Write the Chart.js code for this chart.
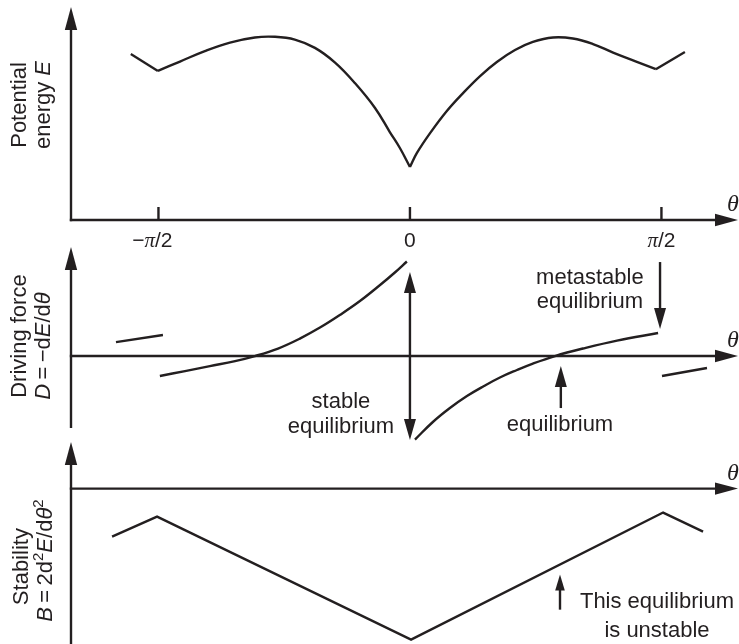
<!DOCTYPE html>
<html>
<head>
<meta charset="utf-8">
<title>Potential energy, driving force and stability</title>
<script src="https://cdn.jsdelivr.net/npm/chart.js@4/dist/chart.umd.min.js"></script>
<style>
  html, body { margin: 0; padding: 0; background: #ffffff; }
  #wrap { position: relative; width: 739px; height: 644px; }
  #wrap canvas { position: absolute; left: 0; top: 0; }
</style>
</head>
<body>
<div id="wrap">
  <canvas id="energyPanel" width="739" height="644"></canvas>
  <canvas id="drivePanel" width="739" height="644"></canvas>
  <canvas id="stabilityPanel" width="739" height="644"></canvas>
</div>
<script>
// ---- data (θ in degrees, −90 / 90 are the ±π/2 reference angles) ----
const thetaTicks = [-90, 0, 90];
const thetaTickLabels = ['−π/2', '0', 'π/2'];

// Potential energy E(θ): two short arms and two lobes meeting in the cusp at θ = 0
const energyArmLeftTheta = [-99.9, -90.2];
const energyArmLeftE = [77.9, 70.0];
const energyLobeLeftTheta = [-90.2, -82.3, -73.4, -64.4, -55.5, -48.3, -41.2, -34.0, -26.8, -19.7, -12.5, -7.2, -3.6, 0];
const energyLobeLeftE = [70.0, 74.4, 79.3, 83.3, 85.7, 86.0, 84.7, 80.8, 73.9, 64.3, 52.6, 41.3, 33.8, 24.9];
const energyLobeRightTheta = [0, 2.5, 7.2, 13.2, 19.0, 25.1, 31.1, 37.6, 44.0, 51.2, 58.3, 65.5, 72.7, 80.5, 88.0];
const energyLobeRightE = [24.9, 31.5, 40.8, 51.2, 59.6, 67.6, 74.2, 79.8, 83.6, 85.7, 85.2, 82.6, 78.6, 74.6, 70.8];
const energyArmRightTheta = [88.0, 98.4];
const energyArmRightE = [70.8, 78.9];

// Driving force D = −dE/dθ
const driveArmLeftTheta = [-105.2, -88.4];
const driveArmLeftD = [12.8, 19.3];
const driveBranchLeftTheta = [-89.5, -80.5, -71.6, -62.6, -55.5, -47.2, -39.4, -32.2, -25.1, -17.9, -10.7, -5.4, -1.1];
const driveBranchLeftD = [-18.3, -13.8, -9.2, -4.6, 0, 6.9, 16.0, 26.1, 37.6, 50.4, 65.1, 76.6, 86.7];
const driveBranchRightTheta = [1.8, 8.2, 14.3, 20.4, 26.5, 32.2, 38.3, 44.0, 51.9, 61.9, 74.1, 88.8];
const driveBranchRightD = [-76.6, -60.5, -47.7, -36.7, -27.5, -19.7, -12.8, -6.9, 0, 6.9, 14.2, 21.1];
const driveArmRightTheta = [90.2, 106.3];
const driveArmRightD = [-18.3, -11.0];

// Stability B = 2d²E/dθ²
const stabilityTheta = [-106.6, -90.5, 0.4, 90.6, 104.9];
const stabilityB = [-30.9, -18.0, -97.2, -15.4, -27.7];

// ---- drawing ----
const INK = '#231f20';
const SANS = '"Liberation Sans", Arial, Helvetica, sans-serif';
const SERIF = '"Liberation Serif", "Times New Roman", serif';
const THETA_MIN = -121.3, THETA_MAX = 117.4;
const LINE_W = 2.4;
const AXIS_HEAD = { len: 23, half: 6.2 };
const NOTE_HEAD = { len: 21, half: 6 };
const SMALL_HEAD = { len: 16, half: 4.8 };
const TEXT_SIZE = 22;

function fontFor(kind, size) {
  if (kind === 'i') return 'italic ' + size + 'px ' + SANS;
  if (kind === 'g') return 'italic ' + size + 'px ' + SERIF;
  if (kind === 's') return Math.round(size * 0.66) + 'px ' + SANS;
  return size + 'px ' + SANS;
}
function runsWidth(ctx, runs, size) {
  let w = 0;
  for (const r of runs) { ctx.font = fontFor(r.k, size); w += ctx.measureText(r.t).width; }
  return w;
}
function drawRuns(ctx, runs, x, y, size, align) {
  const w = runsWidth(ctx, runs, size);
  let cx = align === 'center' ? x - w / 2 : (align === 'right' ? x - w : x);
  ctx.textAlign = 'left';
  ctx.textBaseline = 'alphabetic';
  ctx.fillStyle = INK;
  for (const r of runs) {
    ctx.font = fontFor(r.k, size);
    const dy = r.k === 's' ? -size * 0.4 : 0;
    ctx.fillText(r.t, cx, y + dy);
    cx += ctx.measureText(r.t).width;
  }
}
function head(ctx, tx, ty, dx, dy, h) {
  const bx = tx - dx * h.len, by = ty - dy * h.len;
  const px = -dy, py = dx;
  ctx.beginPath();
  ctx.moveTo(tx, ty);
  ctx.lineTo(bx + px * h.half, by + py * h.half);
  ctx.lineTo(bx - px * h.half, by - py * h.half);
  ctx.closePath();
  ctx.fill();
}
function arrow(ctx, x1, y1, x2, y2, h, both) {
  const L = Math.hypot(x2 - x1, y2 - y1);
  const dx = (x2 - x1) / L, dy = (y2 - y1) / L;
  const sx = both ? x1 + dx * (h.len - 2) : x1, sy = both ? y1 + dy * (h.len - 2) : y1;
  ctx.beginPath();
  ctx.moveTo(sx, sy);
  ctx.lineTo(x2 - dx * (h.len - 2), y2 - dy * (h.len - 2));
  ctx.stroke();
  head(ctx, x2, y2, dx, dy, h);
  if (both) head(ctx, x1, y1, -dx, -dy, h);
}
function tickRuns(label) {
  return Array.from(label).map(ch => ({ t: ch, k: ch === 'π' ? 'g' : 'n' }));
}

// panel decoration: axes with arrowheads, θ label, axis title, notes and marker arrows
function decorPlugin(d) {
  return {
    id: 'decor',
    afterDatasetsDraw(chart) {
      const ctx = chart.ctx, xs = chart.scales.x, ys = chart.scales.y, area = chart.chartArea;
      const X = v => xs.getPixelForValue(v), Y = v => ys.getPixelForValue(v);
      const axisY = Y(0);
      ctx.save();
      ctx.strokeStyle = INK; ctx.fillStyle = INK; ctx.lineWidth = LINE_W; ctx.lineCap = 'butt';

      // vertical axis
      const yStart = d.axisFromZero ? axisY + LINE_W / 2 : area.bottom;
      arrow(ctx, area.left, yStart, area.left, area.top, AXIS_HEAD, false);
      // θ axis
      arrow(ctx, area.left - LINE_W / 2, axisY, area.right, axisY, AXIS_HEAD, false);
      ctx.font = fontFor('g', 24);
      ctx.textAlign = 'center'; ctx.textBaseline = 'alphabetic';
      ctx.fillText('θ', area.right - 5, axisY - 9);

      // θ ticks and their labels
      if (d.ticks) {
        thetaTicks.forEach((t, i) => {
          const px = X(t);
          ctx.beginPath(); ctx.moveTo(px, axisY); ctx.lineTo(px, axisY - 13); ctx.stroke();
          const runs = tickRuns(thetaTickLabels[i]);
          const lead = runs.length > 1 && runs[0].t === '−' ? runs.slice(0, 1) : [];
          const body = runs.slice(lead.length);
          const bw = runsWidth(ctx, body, 21), lw = runsWidth(ctx, lead, 21);
          drawRuns(ctx, lead.concat(body), px - bw / 2 - lw, axisY + 27, 21, 'left');
        });
      }

      // rotated axis title (two lines)
      d.title.forEach(line => {
        ctx.save();
        ctx.translate(line.base, Y(line.mid));
        ctx.rotate(-Math.PI / 2);
        drawRuns(ctx, line.runs, 0, 0, TEXT_SIZE, 'center');
        ctx.restore();
      });

      // marker arrows
      (d.markers || []).forEach(m => {
        arrow(ctx, X(m.theta), Y(m.from), X(m.theta), Y(m.to), m.head, m.both);
      });

      // notes
      (d.notes || []).forEach(n => {
        drawRuns(ctx, [{ t: n.text, k: 'n' }], X(n.theta), Y(n.value), TEXT_SIZE, 'center');
      });
      ctx.restore();
    }
  };
}

function curve(xs, ys, smooth) {
  return {
    data: xs.map((x, i) => ({ x: x, y: ys[i] })),
    borderColor: INK,
    borderWidth: LINE_W,
    pointRadius: 0,
    tension: smooth ? 0.4 : 0,
    cubicInterpolationMode: 'default',
    borderJoinStyle: 'miter',
    borderCapStyle: 'butt',
    clip: false,
    fill: false
  };
}

function panel(id, datasets, yMin, yMax, pad, decor) {
  return new Chart(document.getElementById(id), {
    type: 'line',
    data: { datasets: datasets },
    options: {
      responsive: false,
      animation: false,
      devicePixelRatio: 1,
      events: [],
      layout: { padding: pad },
      scales: {
        x: { type: 'linear', min: THETA_MIN, max: THETA_MAX, display: false },
        y: { type: 'linear', min: yMin, max: yMax, display: false }
      },
      plugins: { legend: { display: false }, tooltip: { enabled: false } }
    },
    plugins: [decorPlugin(decor)]
  });
}

// Potential energy
panel('energyPanel', [
  curve(energyArmLeftTheta, energyArmLeftE, false),
  curve(energyLobeLeftTheta, energyLobeLeftE, true),
  curve(energyLobeRightTheta, energyLobeRightE, true),
  curve(energyArmRightTheta, energyArmRightE, false)
], 0, 100, { left: 71, right: 1, top: 7, bottom: 424 }, {
  axisFromZero: true,
  ticks: true,
  title: [
    { base: 25.5, mid: 54, runs: [{ t: 'Potential', k: 'n' }] },
    { base: 50, mid: 54, runs: [{ t: 'energy ', k: 'n' }, { t: 'E', k: 'i' }] }
  ]
});

// Driving force
panel('drivePanel', [
  curve(driveArmLeftTheta, driveArmLeftD, false),
  curve(driveBranchLeftTheta, driveBranchLeftD, true),
  curve(driveBranchRightTheta, driveBranchRightD, true),
  curve(driveArmRightTheta, driveArmRightD, false)
], -66, 100, { left: 71, right: 1, top: 247, bottom: 216 }, {
  title: [
    { base: 26, mid: 18.3, runs: [{ t: 'Driving force', k: 'n' }] },
    { base: 49.5, mid: 9.2, runs: [
      { t: 'D', k: 'i' }, { t: '\u2009=\u2009−d', k: 'n' }, { t: 'E', k: 'i' },
      { t: '/d', k: 'n' }, { t: 'θ', k: 'i' }] }
  ],
  markers: [
    { theta: 0, from: -77, to: 77, head: NOTE_HEAD, both: true },
    { theta: 89.5, from: 86.2, to: 24.8, head: NOTE_HEAD, both: false },
    { theta: 54, from: -47.7, to: -9.2, head: NOTE_HEAD, both: false }
  ],
  notes: [
    { theta: 64.4, value: 66.0, text: 'metastable' },
    { theta: 64.4, value: 44.0, text: 'equilibrium' },
    { theta: -24.7, value: -47.7, text: 'stable' },
    { theta: -24.7, value: -70.6, text: 'equilibrium' },
    { theta: 53.7, value: -68.8, text: 'equilibrium' }
  ]
});

// Stability
panel('stabilityPanel', [
  curve(stabilityTheta, stabilityB, false)
], -100, 30, { left: 71, right: 1, top: 442, bottom: 0 }, {
  title: [
    { base: 28, mid: -50.2, runs: [{ t: 'Stability', k: 'n' }] },
    { base: 51.5, mid: -46.3, runs: [
      { t: 'B', k: 'i' }, { t: '\u2009=\u20092d', k: 'n' }, { t: '2', k: 's' },
      { t: 'E', k: 'i' }, { t: '/d', k: 'n' }, { t: 'θ', k: 'i' }, { t: '2', k: 's' }] }
  ],
  markers: [
    { theta: 53.7, from: -77.9, to: -55.3, head: SMALL_HEAD, both: false }
  ],
  notes: [
    { theta: 88.4, value: -76.6, text: 'This equilibrium' },
    { theta: 88.4, value: -95.3, text: 'is unstable' }
  ]
});
</script>
</body>
</html>
